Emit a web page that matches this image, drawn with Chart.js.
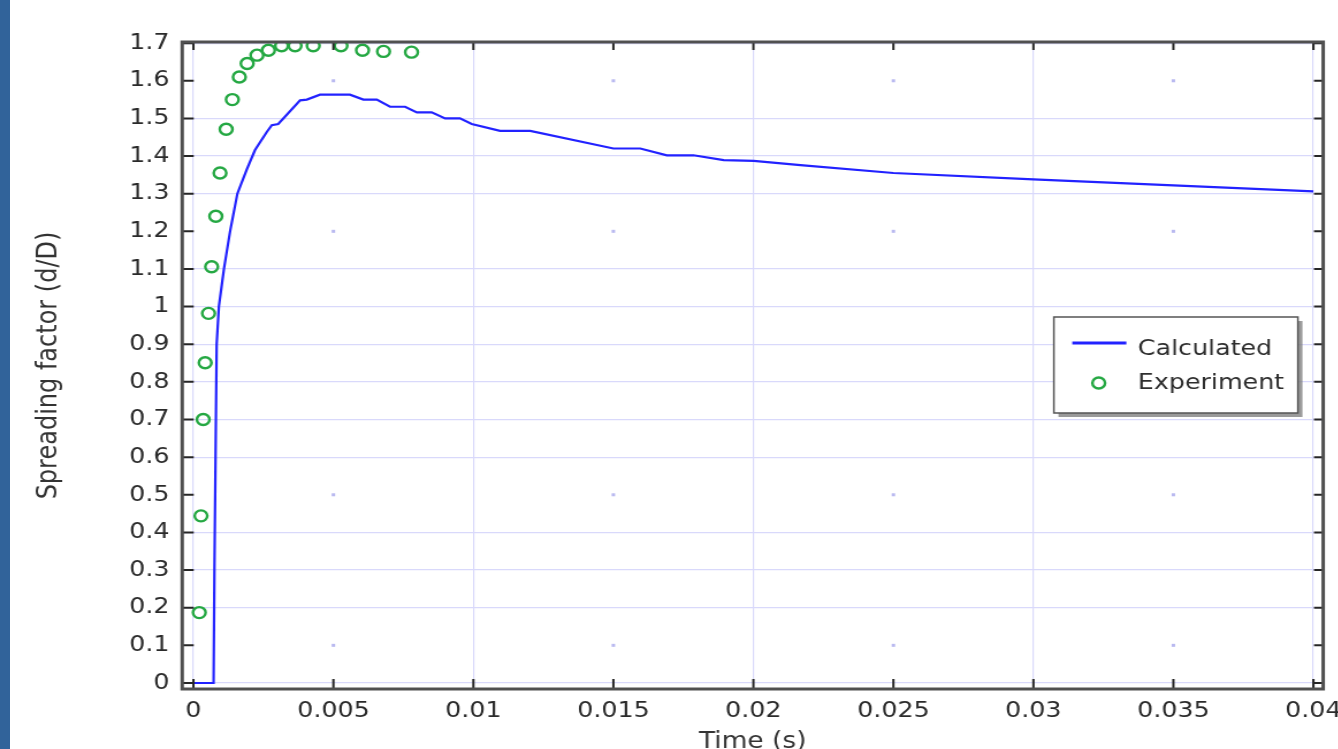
<!DOCTYPE html>
<html>
<head>
<meta charset="utf-8">
<script src="https://cdn.jsdelivr.net/npm/chart.js@4.4.1/dist/chart.umd.min.js"></script>
<style>
  html, body { margin: 0; padding: 0; background: #fff; overflow: hidden; }
  body { width: 1338px; height: 749px; position: relative; }
  #strip { position: absolute; left: 0; top: 0; width: 10px; height: 749px; background: #31639a; z-index: 2; }
  /* plot is laid out narrower and widened horizontally */
  #wrap { position: absolute; left: 0; top: 0; width: 1163.5px; height: 749px;
          transform: scaleX(1.15); transform-origin: 0 0; }
</style>
</head>
<body>
<div id="wrap"><canvas id="chart"></canvas></div>
<div id="strip"></div>
<script>
// ---- data ----
const calcTime   = [0, 0.00072, 0.00075, 0.00079, 0.00083, 0.00091, 0.00109, 0.00131, 0.00157, 0.0019,
                    0.0022, 0.00262, 0.0028, 0.00303, 0.00381, 0.00405, 0.00452, 0.00559, 0.00607,
                    0.00655, 0.00702, 0.00756, 0.00798, 0.00851, 0.00899, 0.00952, 0.00994, 0.01095, 0.01203,
                    0.0150, 0.01596, 0.01691, 0.01786, 0.01894, 0.02001, 0.02168, 0.025, 0.03, 0.035, 0.04];
const calcSpread = [0, 0, 0.3, 0.6, 0.9, 1.0, 1.1, 1.2, 1.3, 1.363,
                    1.416, 1.464, 1.482, 1.485, 1.548, 1.550, 1.563, 1.563, 1.550,
                    1.550, 1.531, 1.531, 1.516, 1.516, 1.500, 1.500, 1.485, 1.467, 1.467,
                    1.420, 1.420, 1.402, 1.402, 1.389, 1.387, 1.376, 1.355, 1.338, 1.322, 1.306];

const expTime   = [0.00021, 0.00027, 0.00035, 0.00042, 0.00054, 0.00065, 0.00080, 0.00095, 0.00117, 0.00139,
                   0.00164, 0.00192, 0.00227, 0.00268, 0.00315, 0.00363, 0.00428, 0.00527, 0.00604, 0.00679, 0.00779];
const expSpread = [0.187, 0.444, 0.700, 0.851, 0.982, 1.106, 1.240, 1.355, 1.471, 1.550,
                   1.610, 1.646, 1.668, 1.681, 1.693, 1.693, 1.693, 1.693, 1.681, 1.678, 1.676];

const xTicks      = [0, 0.005, 0.01, 0.015, 0.02, 0.025, 0.03, 0.035, 0.04];
const xTickLabels = ['0', '0.005', '0.01', '0.015', '0.02', '0.025', '0.03', '0.035', '0.04'];
const yTicks      = [0, 0.1, 0.2, 0.3, 0.4, 0.5, 0.6, 0.7, 0.8, 0.9, 1, 1.1, 1.2, 1.3, 1.4, 1.5, 1.6, 1.7];
const yTickLabels = ['0', '0.1', '0.2', '0.3', '0.4', '0.5', '0.6', '0.7', '0.8', '0.9',
                     '1', '1.1', '1.2', '1.3', '1.4', '1.5', '1.6', '1.7'];

const seriesNames = ['Calculated', 'Experiment'];

// ---- styling ----
const FONT = 'DejaVu Sans';
const GRID = '#d9d9fb';
const FAINT_X = [0.005, 0.015, 0.025, 0.035];   // grid lines that render as dots only
const FAINT_Y = [0.1, 0.5, 1.2, 1.6];
const isIn = (list, v) => list.some(a => Math.abs(a - v) < 1e-9);

const frameAndLegend = {
  id: 'frameAndLegend',
  beforeDatasetsDraw(chart) {
    const { ctx, scales: { x, y } } = chart;
    ctx.save();
    ctx.fillStyle = '#b9b9f0';
    FAINT_X.forEach(xv => FAINT_Y.forEach(yv => {
      ctx.fillRect(x.getPixelForValue(xv) - 1.5, y.getPixelForValue(yv) - 1.5, 3, 3);
    }));
    ctx.restore();
  },
  afterDraw(chart) {
    const { ctx, chartArea: a, scales: { x, y } } = chart;
    ctx.save();
    // inward tick marks on all four sides
    ctx.strokeStyle = '#262626';
    ctx.lineWidth = 2;
    ctx.beginPath();
    x.ticks.forEach(t => {
      const px = x.getPixelForValue(t.value);
      ctx.moveTo(px, a.bottom); ctx.lineTo(px, a.bottom - 10);
      ctx.moveTo(px, a.top);    ctx.lineTo(px, a.top + 8);
    });
    y.ticks.forEach(t => {
      const py = y.getPixelForValue(t.value);
      ctx.moveTo(a.left, py);  ctx.lineTo(a.left + 10, py);
      ctx.moveTo(a.right, py); ctx.lineTo(a.right - 8, py);
    });
    ctx.stroke();
    // frame
    ctx.strokeStyle = '#505050';
    ctx.lineWidth = 3;
    ctx.strokeRect(a.left, a.top, a.right - a.left, a.bottom - a.top);

    // legend box
    const bw = 212, bh = 96;
    const bx = a.right - 22 - bw, by = a.top + 275;
    ctx.fillStyle = 'rgba(120,120,120,0.75)';
    ctx.fillRect(bx + 4, by + 4, bw, bh);
    ctx.fillStyle = '#ffffff';
    ctx.fillRect(bx, by, bw, bh);
    ctx.strokeStyle = '#555';
    ctx.lineWidth = 1.5;
    ctx.strokeRect(bx, by, bw, bh);

    const [lineDs, ptDs] = chart.data.datasets;
    ctx.strokeStyle = lineDs.borderColor;
    ctx.lineWidth = 3;
    ctx.beginPath();
    ctx.moveTo(bx + 16, by + 26); ctx.lineTo(bx + 63, by + 26);
    ctx.stroke();
    ctx.strokeStyle = ptDs.borderColor;
    ctx.lineWidth = ptDs.borderWidth;
    ctx.beginPath();
    ctx.arc(bx + 39, by + 66, ptDs.pointRadius, 0, Math.PI * 2);
    ctx.stroke();

    ctx.fillStyle = '#2e2e2e';
    ctx.font = `22px "${FONT}"`;
    ctx.textAlign = 'left';
    ctx.textBaseline = 'alphabetic';
    ctx.fillText(lineDs.label, bx + 73, by + 38);
    ctx.fillText(ptDs.label, bx + 73, by + 72);
    ctx.restore();
  }
};

new Chart(document.getElementById('chart'), {
  type: 'scatter',
  data: {
    datasets: [
      {
        label: seriesNames[0],
        data: calcTime.map((t, i) => ({ x: t, y: calcSpread[i] })),
        showLine: true,
        borderColor: '#2222ff',
        borderWidth: 2.2,
        pointRadius: 0,
        tension: 0
      },
      {
        label: seriesNames[1],
        data: expTime.map((t, i) => ({ x: t, y: expSpread[i] })),
        showLine: false,
        borderColor: '#25a843',
        backgroundColor: 'rgba(0,0,0,0)',
        borderWidth: 2.4,
        pointRadius: 5.5,
        pointStyle: 'circle'
      }
    ]
  },
  options: {
    responsive: true,
    maintainAspectRatio: false,
    animation: false,
    devicePixelRatio: 1,
    layout: { padding: { top: 42, right: 13.9, bottom: 0, left: 0 } },
    plugins: { legend: { display: false }, tooltip: { enabled: false } },
    scales: {
      x: {
        type: 'linear',
        min: -0.0004,
        max: 0.04035,
        afterBuildTicks: s => { s.ticks = xTicks.map(v => ({ value: v })); },
        afterFit: s => { s.height = 60; s.paddingLeft = 0; s.paddingRight = 0; },
        border: { display: false },
        grid: {
          drawTicks: false,
          lineWidth: 1.2,
          color: c => (c.tick && isIn(FAINT_X, c.tick.value)) ? 'rgba(0,0,0,0)' : GRID
        },
        ticks: {
          autoSkip: false, maxRotation: 0, padding: 9, color: '#2a2a2a',
          font: { family: FONT, size: 22 },
          callback: (v, i) => xTickLabels[i]
        },
        title: {
          display: true, text: 'Time (s)', color: '#333',
          font: { family: FONT, size: 23 }, padding: { top: 0, bottom: -7 }
        }
      },
      y: {
        type: 'linear',
        min: -0.016,
        max: 1.703,
        afterBuildTicks: s => { s.ticks = yTicks.map(v => ({ value: v })); },
        afterFit: s => { s.width = 158.3; s.paddingTop = 0; s.paddingBottom = 0; },
        border: { display: false },
        grid: {
          drawTicks: false,
          lineWidth: 1.2,
          color: c => (c.tick && isIn(FAINT_Y, c.tick.value)) ? 'rgba(0,0,0,0)' : GRID
        },
        ticks: {
          autoSkip: false, padding: 11, color: '#2a2a2a',
          font: { family: FONT, size: 22 },
          callback: (v, i) => yTickLabels[i]
        },
        title: {
          display: true, text: 'Spreading factor (d/D)', color: '#333',
          font: { family: FONT, size: 24 }, padding: { top: 28, bottom: 0 }
        }
      }
    }
  },
  plugins: [frameAndLegend]
});
</script>
</body>
</html>
